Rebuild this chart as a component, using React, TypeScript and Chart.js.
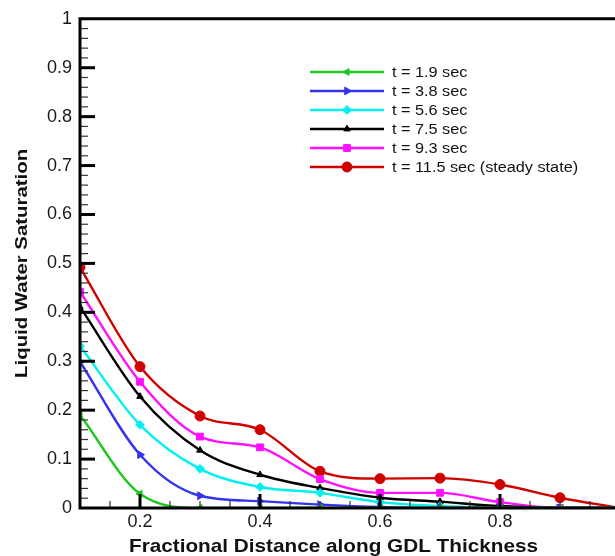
import React, { useEffect, useRef } from 'react';
import { Chart, registerables } from 'chart.js';
import { drawPoint } from 'chart.js/helpers';

Chart.register(...registerables);

// Fractional positions across the GDL where the saturation is sampled
const xPositions = [0.1, 0.2, 0.3, 0.4, 0.5, 0.6, 0.7, 0.8, 0.9, 1.0];

const seriesLabels = [
  't = 1.9 sec',
  't = 3.8 sec',
  't = 5.6 sec',
  't = 7.5 sec',
  't = 9.3 sec',
  't = 11.5 sec (steady state)',
];

const sat_t1_9 = [0.19, 0.029, 0, 0, 0, 0, 0, 0, 0, 0];
const sat_t3_8 = [0.299, 0.109, 0.025, 0.014, 0.007, 0.002, 0, 0, 0, 0];
const sat_t5_6 = [0.331, 0.17, 0.08, 0.043, 0.031, 0.012, 0.004, 0, 0, 0];
const sat_t7_5 = [0.411, 0.228, 0.118, 0.068, 0.041, 0.021, 0.013, 0.004, 0, 0];
const sat_t9_3 = [0.442, 0.258, 0.146, 0.124, 0.059, 0.031, 0.031, 0.012, 0, 0];
const sat_t11_5 = [0.492, 0.289, 0.188, 0.16, 0.075, 0.06, 0.061, 0.048, 0.021, 0];

const xTickLabels = ['0.2', '0.4', '0.6', '0.8', '1'];
const yTickLabels = ['0', '0.1', '0.2', '0.3', '0.4', '0.5', '0.6', '0.7', '0.8', '0.9', '1'];

const xTitle = 'Fractional Distance along GDL Thickness';
const yTitle = 'Liquid Water Saturation';

const FONT = "'Liberation Sans', Arial, Helvetica, sans-serif";

const seriesValues = [sat_t1_9, sat_t3_8, sat_t5_6, sat_t7_5, sat_t9_3, sat_t11_5];
const seriesColors = ['#1ec81e', '#3434f0', '#00f0f0', '#000000', '#ff10ff', '#d00000'];
const seriesMarkers: { style: string; radius: number; rotation: number }[] = [
  { style: 'triangle', radius: 4, rotation: -90 },
  { style: 'triangle', radius: 4.5, rotation: 90 },
  { style: 'rectRot', radius: 4.4, rotation: 0 },
  { style: 'triangle', radius: 3.8, rotation: 0 },
  { style: 'rect', radius: 4.8, rotation: 0 },
  { style: 'circle', radius: 5, rotation: 0 },
];

const fmt = (v: number) => String(Math.round(v * 10) / 10);

function drawFittedText(
  ctx: CanvasRenderingContext2D,
  text: string,
  cx: number,
  cy: number,
  angle: number,
  font: string,
  length: number
) {
  ctx.save();
  ctx.translate(cx, cy);
  ctx.rotate(angle);
  ctx.font = font;
  const w = ctx.measureText(text).width;
  ctx.scale(length / w, 1);
  ctx.textAlign = 'center';
  ctx.textBaseline = 'alphabetic';
  ctx.fillStyle = '#111';
  ctx.fillText(text, 0, 0);
  ctx.restore();
}

// Frame, inward major/minor ticks, axis titles and the in-plot legend
const decorPlugin = {
  id: 'decor',
  afterDatasetsDraw(chart: any) {
    const { ctx, chartArea } = chart;
    const xs = chart.scales.x;
    const ys = chart.scales.y;
    const { left, right, top, bottom } = chartArea;
    ctx.save();
    ctx.strokeStyle = '#000';
    ctx.lineCap = 'butt';

    // y ticks: minor every 0.02, major every 0.1
    for (let i = 1; i < 50; i++) {
      const y = ys.getPixelForValue(i * 0.02);
      const major = i % 5 === 0;
      ctx.lineWidth = major ? 3 : 1.2;
      ctx.strokeStyle = major ? '#000' : '#333';
      ctx.beginPath();
      ctx.moveTo(left, y);
      ctx.lineTo(left + (major ? 15 : 8), y);
      ctx.stroke();
    }
    // x ticks: minor every 0.05, major every 0.2
    for (let k = 3; k < 20; k++) {
      const x = xs.getPixelForValue(k * 0.05);
      const major = k % 4 === 0;
      ctx.lineWidth = major ? 3 : 1.2;
      ctx.strokeStyle = major ? '#000' : '#333';
      ctx.beginPath();
      ctx.moveTo(x, bottom);
      ctx.lineTo(x, bottom - (major ? 14 : 7));
      ctx.stroke();
    }

    // frame
    ctx.strokeStyle = '#000';
    ctx.lineWidth = 3;
    ctx.beginPath();
    ctx.moveTo(left, top);
    ctx.lineTo(right, top);
    ctx.lineTo(right, bottom);
    ctx.lineTo(left, bottom);
    ctx.closePath();
    ctx.stroke();
    ctx.restore();
  },
  afterDraw(chart: any) {
    const { ctx, chartArea } = chart;
    ctx.save();
    drawFittedText(ctx, xTitle, 333.5, 552, 0, `bold 19px ${FONT}`, 409);
    drawFittedText(ctx, yTitle, 26.5, (chartArea.top + chartArea.bottom) / 2, -Math.PI / 2, `bold 16px ${FONT}`, 229);

    // legend
    const lx0 = 310;
    const lx1 = 384;
    const ly0 = 72;
    const rowH = 19;
    chart.data.datasets.forEach((ds: any, i: number) => {
      const y = ly0 + i * rowH;
      ctx.strokeStyle = ds.borderColor;
      ctx.lineWidth = 2.4;
      ctx.beginPath();
      ctx.moveTo(lx0, y);
      ctx.lineTo(lx1, y);
      ctx.stroke();
      ctx.fillStyle = ds.borderColor;
      ctx.strokeStyle = ds.borderColor;
      ctx.lineWidth = 1;
      drawPoint(
        ctx,
        { pointStyle: ds.pointStyle, radius: ds.pointRadius, rotation: ds.pointRotation, borderWidth: 1 } as any,
        (lx0 + lx1) / 2,
        y
      );
      ctx.save();
      ctx.translate(lx1 + 8, y);
      ctx.scale(1.16, 1);
      ctx.font = `normal 400 14px ${FONT}`;
      ctx.fillStyle = '#111';
      ctx.textAlign = 'left';
      ctx.textBaseline = 'middle';
      ctx.fillText(ds.label, 0, 1);
      ctx.restore();
    });
    ctx.restore();
  },
};

export default function App() {
  const canvasRef = useRef<HTMLCanvasElement | null>(null);

  useEffect(() => {
    const canvas = canvasRef.current;
    if (!canvas) return;
    const datasets = seriesValues.map((vals, i) => ({
      label: seriesLabels[i],
      data: vals.map((v, j) => ({ x: xPositions[j], y: v })),
      borderColor: seriesColors[i],
      backgroundColor: seriesColors[i],
      borderWidth: 2.4,
      pointStyle: seriesMarkers[i].style,
      pointRadius: seriesMarkers[i].radius,
      pointRotation: seriesMarkers[i].rotation,
      pointBorderWidth: 1,
      pointBackgroundColor: seriesColors[i],
      pointBorderColor: seriesColors[i],
      cubicInterpolationMode: 'monotone' as const,
      tension: 0.4,
      fill: false,
    }));

    const chart = new Chart(canvas, {
      type: 'line',
      data: { datasets },
      options: {
        responsive: false,
        animation: false,
        devicePixelRatio: 1,
        layout: { padding: { top: 18, right: 20, left: 0, bottom: 0 } },
        plugins: { legend: { display: false }, tooltip: { enabled: false } },
        scales: {
          x: {
            type: 'linear',
            min: 0.1,
            max: 1,
            afterFit: (s: any) => {
              s.height = 48;
            },
            grid: { display: false, drawTicks: false },
            border: { display: false },
            ticks: {
              stepSize: 0.1,
              autoSkip: false,
              maxRotation: 0,
              padding: 3,
              color: '#1a1a1a',
              font: { family: FONT, size: 18 },
              callback: (v: any) => {
                const s = fmt(Number(v));
                return xTickLabels.includes(s) ? s : '';
              },
            },
          },
          y: {
            type: 'linear',
            min: 0,
            max: 1,
            afterFit: (s: any) => {
              s.width = 80;
            },
            grid: { display: false, drawTicks: false },
            border: { display: false },
            ticks: {
              stepSize: 0.1,
              autoSkip: false,
              padding: 8,
              color: '#1a1a1a',
              font: { family: FONT, size: 18 },
              callback: (v: any) => {
                const s = fmt(Number(v));
                return yTickLabels.includes(s) ? s : '';
              },
            },
          },
        },
      },
      plugins: [decorPlugin],
    });
    return () => chart.destroy();
  }, []);

  return (
    <div
      style={{
        position: 'fixed',
        left: 0,
        top: 0,
        width: 615,
        height: 556,
        overflow: 'hidden',
        background: '#fff',
      }}
    >
      <canvas ref={canvasRef} width={640} height={556} style={{ display: 'block', width: 640, height: 556 }} />
    </div>
  );
}
